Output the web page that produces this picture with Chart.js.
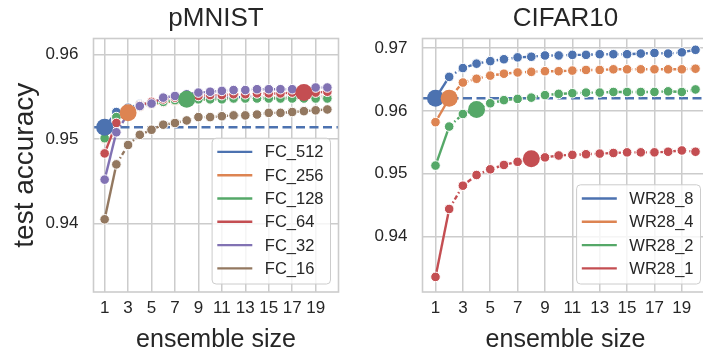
<!DOCTYPE html>
<html>
<head>
<meta charset="utf-8">
<script src="https://cdn.jsdelivr.net/npm/chart.js@4.4.1/dist/chart.umd.min.js"></script>
<style>
html, body { margin: 0; padding: 0; background: #fff; overflow: hidden; width: 703px; height: 356px; }
canvas { position: absolute; top: 0; }
</style>
</head>
<body>
<canvas id="mnistChart" width="350" height="356" style="left:0"></canvas>
<canvas id="cifarChart" width="370" height="356" style="left:350px"></canvas>
<script>
// ensemble sizes on the x axis
const sizes = [1, 2, 3, 4, 5, 6, 7, 8, 9, 10, 11, 12, 13, 14, 15, 16, 17, 18, 19, 20];
const xTicks = [1, 3, 5, 7, 9, 11, 13, 15, 17, 19];

// pMNIST
const mnistNames = ['FC_512', 'FC_256', 'FC_128', 'FC_64', 'FC_32', 'FC_16'];
const fc512 = [0.9514, 0.9532, 0.9537, 0.9541, 0.9543, 0.9545, 0.9546, 0.9547, 0.9548, 0.9549, 0.9549, 0.9549, 0.9550, 0.9550, 0.9550, 0.9550, 0.9550, 0.9551, 0.9551, 0.9551];
const fc256 = [0.9500, 0.9524, 0.9531, 0.9538, 0.9541, 0.9543, 0.9545, 0.9546, 0.9547, 0.9547, 0.9548, 0.9548, 0.9548, 0.9549, 0.9549, 0.9549, 0.9549, 0.9549, 0.9550, 0.9550];
const fc128 = [0.9501, 0.9526, 0.9535, 0.9540, 0.9542, 0.9544, 0.9546, 0.9547, 0.9547, 0.9547, 0.9547, 0.9548, 0.9548, 0.9548, 0.9548, 0.9548, 0.9548, 0.9548, 0.9548, 0.9548];
const fc64  = [0.9483, 0.9519, 0.9532, 0.9540, 0.9544, 0.9547, 0.9549, 0.9550, 0.9551, 0.9552, 0.9552, 0.9553, 0.9553, 0.9554, 0.9554, 0.9554, 0.9555, 0.9555, 0.9555, 0.9556];
const fc32  = [0.9452, 0.9508, 0.9530, 0.9539, 0.9542, 0.9549, 0.9551, 0.9553, 0.9555, 0.9556, 0.9557, 0.9558, 0.9558, 0.9559, 0.9559, 0.9559, 0.9559, 0.9559, 0.9561, 0.9561];
const fc16  = [0.9405, 0.9470, 0.9493, 0.9505, 0.9511, 0.9517, 0.9519, 0.9522, 0.9526, 0.9526, 0.9527, 0.9528, 0.9528, 0.9529, 0.9531, 0.9531, 0.9532, 0.9533, 0.9534, 0.9535];
const mnistBigAt = [1, 3, 8, 18, null, null];
const mnistYTicks = [0.94, 0.95, 0.96];

// CIFAR10
const cifarNames = ['WR28_8', 'WR28_4', 'WR28_2', 'WR28_1'];
const wr8 = [0.9620, 0.9654, 0.9668, 0.9675, 0.9679, 0.9682, 0.9685, 0.9686, 0.9688, 0.9688, 0.9689, 0.9689, 0.9690, 0.9690, 0.9690, 0.9691, 0.9692, 0.9691, 0.9693, 0.9697];
const wr4 = [0.9582, 0.9620, 0.9645, 0.9651, 0.9656, 0.9659, 0.9661, 0.9662, 0.9663, 0.9663, 0.9664, 0.9665, 0.9665, 0.9666, 0.9666, 0.9666, 0.9666, 0.9666, 0.9666, 0.9667];
const wr2 = [0.9513, 0.9575, 0.9595, 0.9602, 0.9612, 0.9617, 0.9619, 0.9621, 0.9625, 0.9627, 0.9628, 0.9629, 0.9629, 0.9630, 0.9630, 0.9630, 0.9630, 0.9631, 0.9630, 0.9634];
const wr1 = [0.9336, 0.9444, 0.9481, 0.9498, 0.9507, 0.9514, 0.9519, 0.9524, 0.9526, 0.9529, 0.9530, 0.9531, 0.9532, 0.9533, 0.9534, 0.9534, 0.9534, 0.9535, 0.9537, 0.9535];
const cifarBigAt = [1, 2, 4, 8];
const cifarYTicks = [0.94, 0.95, 0.96, 0.97];

const palette = ['#4C72B0', '#DD8452', '#55A868', '#C44E52', '#8172B3', '#937860'];
const X_MIN = 0.05, X_MAX = 20.95;
const FONT = "'Liberation Sans', Arial, Helvetica, sans-serif";
const INK = '#262626';
const GRID = '#cccccc';

function buildSets(names, series, bigAt) {
    const sets = series.map((vals, i) => ({
        label: names[i],
        data: vals.map((v, j) => ({ x: sizes[j], y: v })),
        showLine: true,
        borderColor: palette[i],
        backgroundColor: palette[i],
        borderWidth: 2.4,
        pointRadius: 4.8,
        pointBorderColor: '#fff',
        pointBorderWidth: 1,
        segment: { borderDash: c => c.p0DataIndex === 0 ? [] : [4.5, 2.5, 1.5, 2.5] },
        order: -i,
        inLegend: true
    }));
    // larger marker on one point of a series
    bigAt.forEach((b, i) => {
        if (!b) return;
        sets.push({
            data: [{ x: b, y: series[i][b - 1] }],
            showLine: false,
            backgroundColor: palette[i],
            borderColor: palette[i],
            pointRadius: 8.5,
            pointBorderWidth: 0,
            order: -50 - i
        });
    });
    // dashed reference at the first series' single-model accuracy
    sets.push({
        data: [{ x: X_MIN, y: series[0][0] }, { x: X_MAX, y: series[0][0] }],
        showLine: true,
        borderColor: palette[0],
        borderWidth: 2.5,
        borderDash: [9, 4.5],
        pointRadius: 0,
        order: 20
    });
    return sets;
}

// axes frame on all four sides
const framePlugin = {
    id: 'frame',
    afterDatasetsDraw(chart) {
        const { ctx, chartArea: a } = chart;
        ctx.save();
        ctx.strokeStyle = GRID;
        ctx.lineWidth = 1.6;
        ctx.strokeRect(a.left, a.top, a.right - a.left, a.bottom - a.top);
        ctx.restore();
    }
};

// legend box in the lower right corner of the axes
const boxLegend = {
    id: 'boxLegend',
    afterDraw(chart) {
        const { ctx, chartArea: a } = chart;
        const items = chart.data.datasets.filter(d => d.inLegend);
        ctx.save();
        ctx.font = '16.5px ' + FONT;
        const textW = Math.max(...items.map(d => ctx.measureText(d.label).width));
        const rowH = 23.3;
        const w = 5.2 + 35 + 12.5 + textW + 7;
        const h = items.length * rowH + 6;
        const x = a.right - 8 - w, y = a.bottom - 8 - h;
        ctx.beginPath();
        ctx.roundRect(x, y, w, h, 4);
        ctx.fillStyle = 'rgba(255,255,255,0.8)';
        ctx.fill();
        ctx.strokeStyle = GRID;
        ctx.lineWidth = 1;
        ctx.stroke();
        items.forEach((d, i) => {
            const cy = y + 13.7 + i * rowH;
            ctx.beginPath();
            ctx.moveTo(x + 5.2, cy);
            ctx.lineTo(x + 40.2, cy);
            ctx.strokeStyle = d.borderColor;
            ctx.lineWidth = 2.4;
            ctx.stroke();
            ctx.fillStyle = INK;
            ctx.textBaseline = 'middle';
            ctx.fillText(d.label, x + 52.7, cy + 1);
        });
        ctx.restore();
    }
};

function makeChart(id, title, names, series, bigAt, yMin, yMax, yTicks, yAxisWidth, yTitle) {
    return new Chart(document.getElementById(id), {
        type: 'scatter',
        data: { datasets: buildSets(names, series, bigAt) },
        options: {
            responsive: false,
            animation: false,
            layout: { padding: { right: 11.5, left: 0, bottom: 0, top: 0 } },
            plugins: {
                legend: { display: false },
                tooltip: { enabled: false },
                title: {
                    display: true, text: title, fullSize: false, color: INK,
                    font: { family: FONT, size: 26, weight: 'normal', lineHeight: 1.1 },
                    padding: { top: 5, bottom: 4.9 }
                }
            },
            scales: {
                x: {
                    type: 'linear', min: X_MIN, max: X_MAX,
                    afterBuildTicks: s => { s.ticks = xTicks.map(v => ({ value: v })); },
                    afterFit: s => { s.height = 64; },
                    grid: { color: GRID, lineWidth: 1.5, drawTicks: false },
                    border: { display: false },
                    ticks: { color: INK, padding: 6, maxRotation: 0, autoSkip: false, font: { family: FONT, size: 17 } },
                    title: { display: true, text: 'ensemble size', color: INK, font: { family: FONT, size: 25 }, padding: { top: 0, bottom: 1 } }
                },
                y: {
                    min: yMin, max: yMax,
                    afterBuildTicks: s => { s.ticks = yTicks.map(v => ({ value: v })); },
                    afterFit: s => { s.width = yAxisWidth; },
                    grid: { color: GRID, lineWidth: 1.5, drawTicks: false },
                    border: { display: false },
                    ticks: { color: INK, padding: 15, callback: v => v.toFixed(2), font: { family: FONT, size: 17 } },
                    title: { display: !!yTitle, text: yTitle || '', color: INK, font: { family: FONT, size: 28 }, padding: { top: 8, bottom: 0 } }
                }
            }
        },
        plugins: [framePlugin, boxLegend]
    });
}

makeChart('mnistChart', 'pMNIST', mnistNames, [fc512, fc256, fc128, fc64, fc32, fc16], mnistBigAt,
    0.9319, 0.9619, mnistYTicks, 93.5, 'test accuracy');
makeChart('cifarChart', 'CIFAR10', cifarNames, [wr8, wr4, wr2, wr1], cifarBigAt,
    0.9312, 0.9715, cifarYTicks, 72.5, null);
</script>
</body>
</html>
